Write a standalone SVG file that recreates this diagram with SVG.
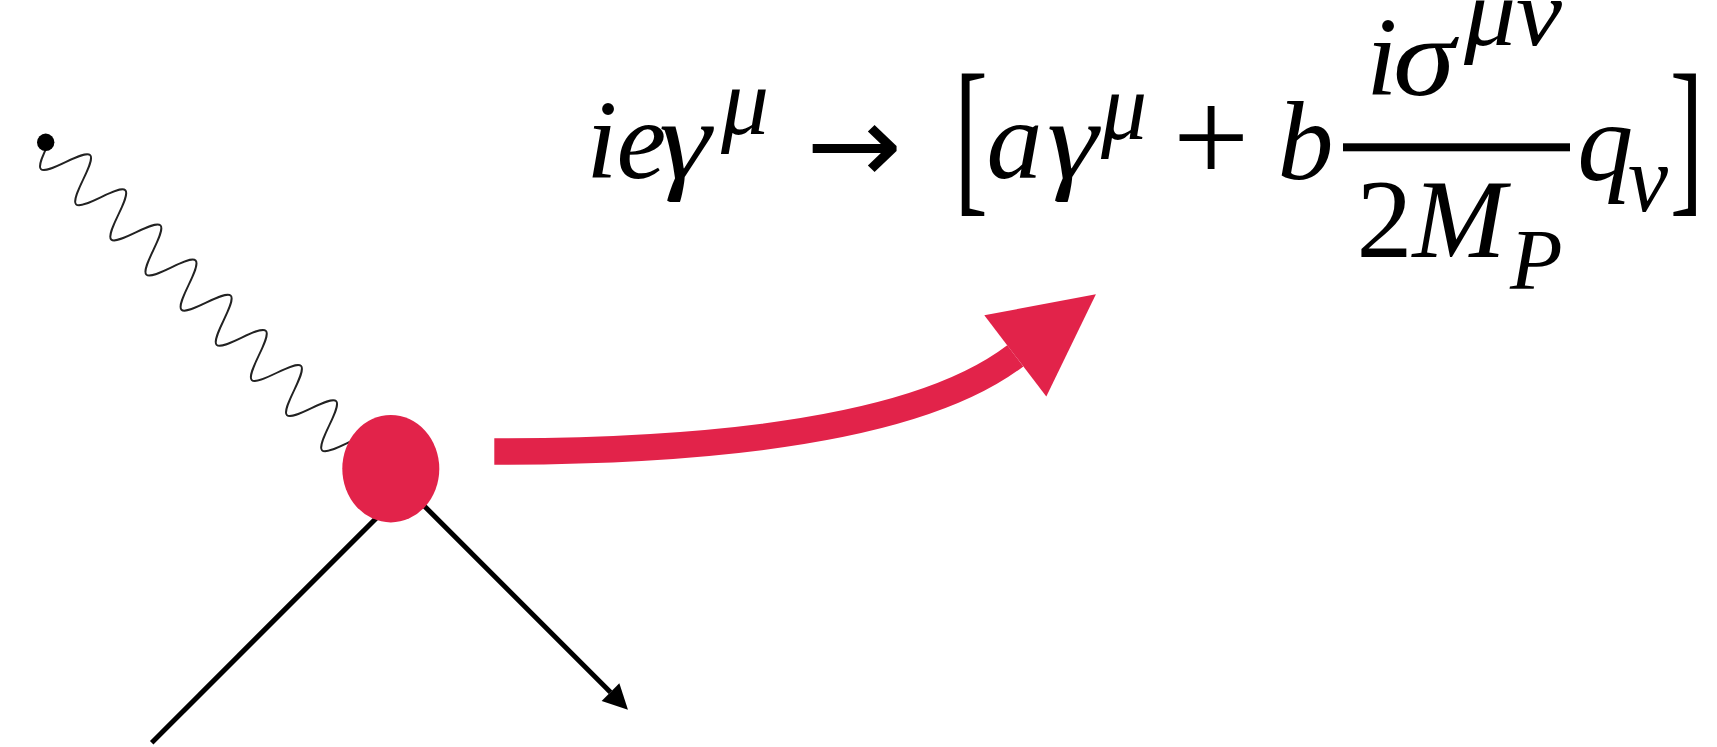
<svg xmlns="http://www.w3.org/2000/svg" width="1717" height="747" viewBox="0 0 1717 747">
<style>
.m{font-family:"Liberation Serif","Times New Roman",serif;font-style:italic;fill:#000}
.r{font-family:"Liberation Serif","Times New Roman",serif;font-style:normal;fill:#000}
.big{font-size:112px}
.sc{font-size:96px}
.wave{fill:none;stroke:#222;stroke-width:1.9}
.line{fill:none;stroke:#000;stroke-width:5}
.red{fill:#E2234A}
</style>
<defs>
<marker id="ah" markerUnits="userSpaceOnUse" orient="auto" refX="0" refY="0" markerWidth="30" markerHeight="30" overflow="visible">
<path d="M0,-12.5 L24.7,0 L0,12.5 z" fill="#000"/>
</marker>
<marker id="rh" markerUnits="userSpaceOnUse" orient="auto" refX="0" refY="0" markerWidth="110" markerHeight="110" overflow="visible">
<path d="M0,-51.1 L101.4,0 L0,51.1 z" fill="#E2234A"/>
</marker>
</defs>
<rect width="1717" height="747" fill="#fff"/>
<g id="connectors">
<path class="wave" transform="translate(45.7,142.3) rotate(45)" d="M3.2,0 c4.05,11.48 7.95,22.4 12.425,22.4 s8.375,-10.92 12.425,-22.4 s7.95,-22.4 12.425,-22.4 s8.375,10.92 12.425,22.4 s7.95,22.4 12.425,22.4 s8.375,-10.92 12.425,-22.4 s7.95,-22.4 12.425,-22.4 s8.375,10.92 12.425,22.4 s7.95,22.4 12.425,22.4 s8.375,-10.92 12.425,-22.4 s7.95,-22.4 12.425,-22.4 s8.375,10.92 12.425,22.4 s7.95,22.4 12.425,22.4 s8.375,-10.92 12.425,-22.4 s7.95,-22.4 12.425,-22.4 s8.375,10.92 12.425,22.4 s7.95,22.4 12.425,22.4 s8.375,-10.92 12.425,-22.4 s7.95,-22.4 12.425,-22.4 s8.375,10.92 12.425,22.4 s7.95,22.4 12.425,22.4 s8.375,-10.92 12.425,-22.4 s7.95,-22.4 12.425,-22.4 s8.375,10.92 12.425,22.4 s7.95,22.4 12.425,22.4 s8.375,-10.92 12.425,-22.4 s7.95,-22.4 12.425,-22.4 s8.375,10.92 12.425,22.4 s7.95,22.4 12.425,22.4 s8.375,-10.92 12.425,-22.4 s7.95,-22.4 12.425,-22.4 s8.375,10.92 12.425,22.4 s7.95,22.4 12.425,22.4 s8.375,-10.92 12.425,-22.4 s7.95,-22.4 12.425,-22.4"/>
<line class="line" x1="151.7" y1="742.7" x2="385" y2="509.4"/>
<line class="line" x1="400" y1="481.7" x2="610.5" y2="692.2" marker-end="url(#ah)"/>
<path d="M494.3,451.5 Q890,451.5 1015.3,355.85" fill="none" stroke="#E2234A" stroke-width="26.5" marker-end="url(#rh)"/>
</g>
<g id="source-dot">
<circle cx="45.7" cy="142.3" r="8.7" fill="#000"/>
</g>
<g id="vertex">
<ellipse class="red" cx="390.8" cy="468.7" rx="48.5" ry="53.7"/>
</g>
<g id="formula">
<text class="m big" x="586.2" y="178">i</text>
<text class="m big" x="616.5" y="178">e</text>
<text class="m big" x="659" y="178" textLength="52" lengthAdjust="spacingAndGlyphs">γ</text>
<text class="m sc" x="721" y="134" textLength="48" lengthAdjust="spacingAndGlyphs">μ</text>
<text style="font-family:'DejaVu Sans',sans-serif;font-size:110px" x="806" y="183" textLength="96" lengthAdjust="spacingAndGlyphs">→</text>
<g transform="translate(963.3,0) scale(0.588,1)"><text class="r" style="font-size:172px" x="-15.4" y="193">[</text></g>
<text class="m big" x="986.4" y="178" textLength="56" lengthAdjust="spacingAndGlyphs">a</text>
<text class="m big" x="1047" y="178" textLength="51" lengthAdjust="spacingAndGlyphs">γ</text>
<text class="m sc" x="1101" y="139" textLength="46" lengthAdjust="spacingAndGlyphs">μ</text>
<text class="r" style="font-size:136px" x="1172.7" y="183">+</text>
<text class="m big" x="1277.4" y="179">b</text>
<text class="m big" x="1366.2" y="95">i</text>
<text class="m big" x="1393" y="95" textLength="62" lengthAdjust="spacingAndGlyphs">σ</text>
<text class="m sc" x="1464" y="45" textLength="98" lengthAdjust="spacingAndGlyphs">μν</text>
<rect x="1343" y="143.3" width="227" height="8" fill="#000"/>
<text class="r big" x="1356.6" y="256.7">2</text>
<text class="m big" x="1412.6" y="256.7">M</text>
<text class="m" style="font-size:86px" x="1510" y="289">P</text>
<text class="m big" x="1577.2" y="180">q</text>
<text class="m sc" x="1628" y="211" textLength="40" lengthAdjust="spacingAndGlyphs">ν</text>
<g transform="translate(1673.3,0) scale(0.588,1)"><text class="r" style="font-size:172px" x="-5.95" y="193">]</text></g>
</g>
</svg>
